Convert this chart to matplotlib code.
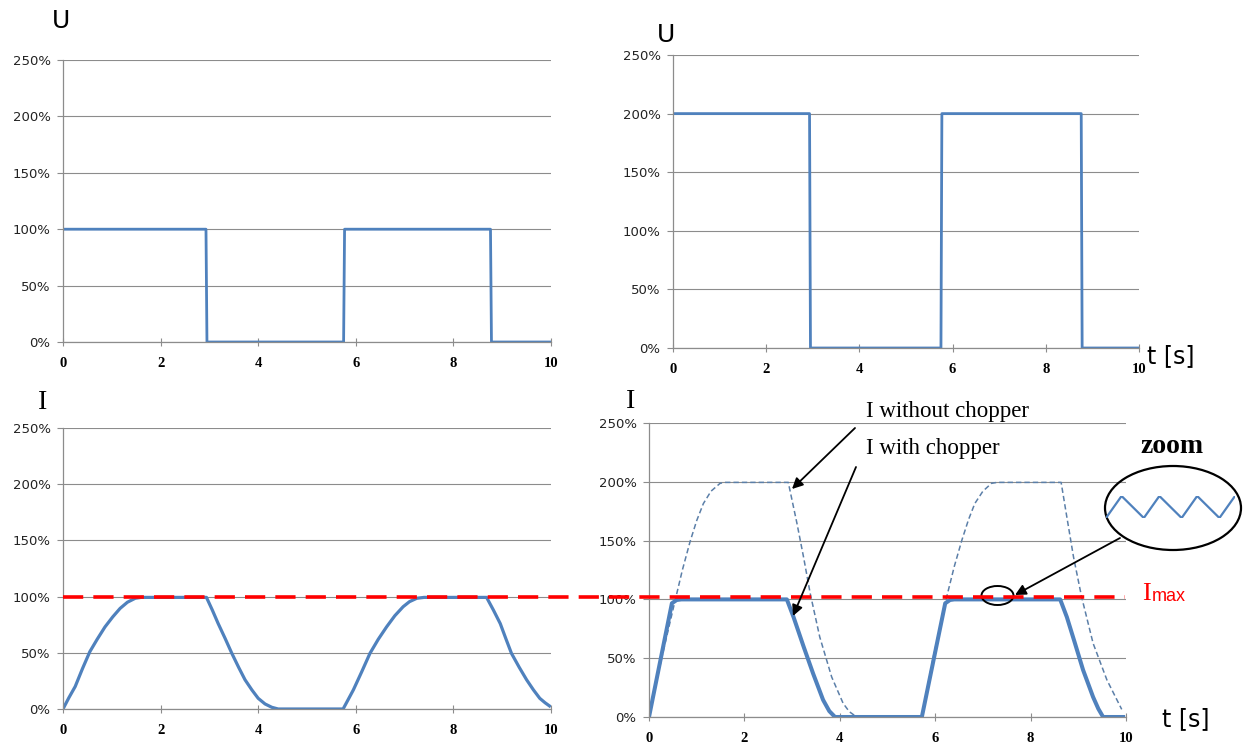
import matplotlib.pyplot as plt
from matplotlib.patches import Ellipse
from matplotlib.transforms import blended_transform_factory

W, H = 1246, 747
plt.rcParams['font.family'] = ['DejaVu Sans']

# voltage (top row)
t_u = [0, 2.93, 2.95, 5.75, 5.77, 8.76, 8.78, 10]
u_normal = [100, 100, 0, 0, 100, 100, 0, 0]
u_double = [200, 200, 0, 0, 200, 200, 0, 0]

# current at normal voltage (bottom left)
t_i = [0, 0.12, 0.25, 0.4, 0.55, 0.7, 0.86, 1.02, 1.17, 1.32, 1.48, 1.6,
       2.94, 3.06, 3.18, 3.32, 3.46, 3.6, 3.73, 3.87, 4.0, 4.14, 4.28, 4.41,
       5.74, 5.95, 6.12, 6.29, 6.46, 6.63, 6.8, 6.97, 7.1, 7.25, 7.4,
       8.68, 8.82, 8.96, 9.08, 9.19, 9.35, 9.5, 9.64, 9.77, 9.88, 9.97]
i_normal = [0, 10, 20, 36, 51, 62, 73, 82, 89.5, 95, 98.5, 99.3,
            99.3, 88, 76, 63, 49.5, 37, 26, 17, 9.5, 4.5, 1.5, 0,
            0, 17, 33, 49.5, 62, 73, 83, 91, 95.5, 98.5, 99.3,
            99.3, 88, 76, 62, 49.5, 37, 26, 17, 9.5, 5.5, 2.7]

# current at double voltage (bottom right)
t_nochop = [0, 0.27, 0.55, 0.7, 0.86, 1.0, 1.14, 1.3, 1.49, 1.6,
            2.92, 3.1, 3.24, 3.38, 3.58, 3.83, 4.07, 4.2, 4.32,
            5.72, 5.96, 6.24, 6.4, 6.56, 6.7, 6.83, 7.0, 7.18, 7.3,
            8.64, 8.76, 8.9, 9.07, 9.31, 9.6, 9.91]
i_nochop = [0, 51, 99.5, 125, 149, 167, 181.5, 192, 198.7, 199.5,
            199.5, 165, 136, 105, 68, 34, 11.6, 4.5, 1,
            0, 51, 102, 128, 150.5, 168, 181.5, 192, 198.7, 199.5,
            199.5, 170, 136, 102, 62.7, 31.5, 6.5]
t_chop = [0, 0.48, 0.58, 0.68, 2.89, 3.03, 3.24, 3.44, 3.65, 3.78, 3.9, 5.72,
          6.21, 6.31, 6.4, 8.62, 8.76, 8.93, 9.1, 9.31, 9.42, 9.52, 9.94]
i_chop = [0, 96.7, 99.5, 100, 100, 85, 60, 37, 14.5, 5, 0, 0,
          96.7, 99.5, 100, 100, 85, 62.7, 40, 17, 7, 0, 0]
i_max = 100

# ripple shown in the zoom bubble
zoom_t = [0, 0.7, 1.7, 2.4, 3.4, 4.1, 5.1, 5.8]
zoom_i = [0, 1, 0, 1, 0, 1, 0, 1]

x_ticks = [0, 2, 4, 6, 8, 10]
y_ticks = [0, 50, 100, 150, 200, 250]
y_labels = ['0%', '50%', '100%', '150%', '200%', '250%']

blue = '#4F81BD'
grey = '#8C8C8C'


def px_axes(x0, x1, ytop, ybot):
    return fig.add_axes([x0 / W, (H - ybot) / H, (x1 - x0) / W, (ybot - ytop) / H])


def style(ax):
    ax.set_xlim(0, 10)
    ax.set_ylim(0, 250)
    ax.set_facecolor('none')
    ax.set_xticks(x_ticks)
    ax.set_yticks(y_ticks)
    ax.set_yticklabels(y_labels)
    for s in ['top', 'right']:
        ax.spines[s].set_visible(False)
    for s in ['left', 'bottom']:
        ax.spines[s].set_color(grey)
        ax.spines[s].set_linewidth(0.9)
    ax.grid(axis='y', color=grey, lw=0.8)
    ax.set_axisbelow(True)
    ax.tick_params(axis='y', length=4, color=grey, pad=5, labelsize=9.5, labelcolor='#222222')
    ax.tick_params(axis='x', direction='inout', length=6, color=grey, pad=8, labelsize=10.5)
    for lab in ax.get_xticklabels():
        lab.set_family('Liberation Serif')
        lab.set_fontweight('bold')


fig = plt.figure(figsize=(W / 100, H / 100), dpi=100)

ax1 = px_axes(63, 551, 60, 342)
ax2 = px_axes(673, 1139, 55, 348)
ax3 = px_axes(63, 551, 428, 709)
ax4 = px_axes(649, 1126, 423, 717)
for ax in [ax1, ax2, ax3, ax4]:
    style(ax)

ax1.plot(t_u, u_normal, color=blue, lw=2)
ax2.plot(t_u, u_double, color=blue, lw=2)
ax3.plot(t_i, i_normal, color=blue, lw=2.3, solid_joinstyle='round')
ax4.plot(t_nochop, i_nochop, color='#5B7FA8', lw=1.1, dashes=(3.5, 2))
ax4.plot(t_chop, i_chop, color=blue, lw=2.9, solid_joinstyle='round')

# overlay in pixel coordinates for the sketch annotations
ov = fig.add_axes([0, 0, 1, 1], zorder=10)
ov.set_xlim(0, W)
ov.set_ylim(H, 0)
ov.axis('off')

blend = blended_transform_factory(ov.transData, ax3.transData)
ov.plot([63, 1125], [i_max, i_max], transform=blend, color='red', lw=2.6, dashes=(5.6, 2.8))

ov.text(52, 28, 'U', fontsize=18)
ov.text(657, 42, 'U', fontsize=18)
ov.text(38, 409, 'I', fontsize=20, family='Liberation Serif')
ov.text(626, 408, 'I', fontsize=20, family='Liberation Serif')
ov.text(1147, 363, 't [s]', fontsize=17)
ov.text(1162, 726, 't [s]', fontsize=17)

ov.text(866, 417, 'I without chopper', fontsize=16.5, family='Liberation Serif')
ov.text(866, 454, 'I with chopper', fontsize=16.5, family='Liberation Serif')
ov.text(1140, 453, 'zoom', fontsize=20, family='Liberation Serif', fontweight='bold')
ov.text(1142, 600, 'I', fontsize=19, family='Liberation Serif', color='red')
ov.text(1152, 601, 'max', fontsize=13, family='Liberation Sans', color='red')

arrow = dict(arrowstyle='-|>', color='black', lw=1.3, mutation_scale=16, shrinkA=0, shrinkB=0)
ov.annotate('', xy=(792, 489), xytext=(855, 428), arrowprops=arrow)
ov.annotate('', xy=(793, 616), xytext=(856, 467), arrowprops=arrow)
ov.annotate('', xy=(1015, 595), xytext=(1120, 538), arrowprops=arrow)

ov.add_patch(Ellipse((1173, 508), 136, 84, fill=False, ec='black', lw=1.6))
ov.add_patch(Ellipse((997.5, 595.5), 32, 19, fill=False, ec='black', lw=1.4))

zax = fig.add_axes([1106 / W, (H - 518) / H, 129 / W, 22 / H], zorder=11)
zax.plot(zoom_t, zoom_i, color=blue, lw=1.6)
zax.set_xlim(0, 5.8)
zax.set_ylim(0, 1)
zax.axis('off')

fig.savefig('out.png', dpi=100)
